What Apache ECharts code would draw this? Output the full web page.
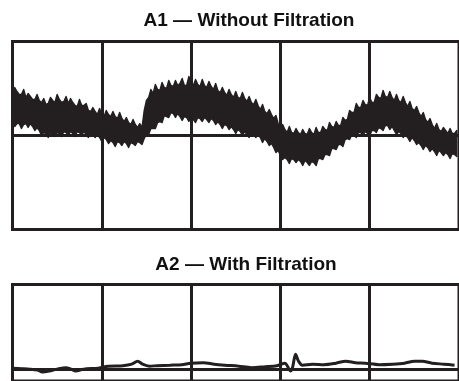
<!DOCTYPE html>
<html>
<head>
<meta charset="utf-8">
<script src="https://cdn.jsdelivr.net/npm/echarts@6/dist/echarts.min.js"></script>
<style>
html,body{margin:0;padding:0;background:#fff;}
#chart{width:459px;height:381px;}
</style>
</head>
<body>
<div id="chart"></div>
<script>
// Titles
var titleTop = "A1 \u2014 Without Filtration";
var titleBottom = "A2 \u2014 With Filtration";

// Top panel (A1): band sampled every 2.5 ms from 0 ms
var sampleStartA1 = 0, sampleStepA1 = 2.5;
var upperA1 = [43,48,44,41,41,46,38,42,39,36,36,41,35,33,37,31,32,38,35,33,
  41,36,33,34,39,32,37,33,30,29,36,30,30,32,25,24,28,24,21,27,
  21,19,25,21,19,24,19,17,23,17,14,18,13,11,16,11,8,12,8,25,
  35,38,46,42,51,46,45,53,48,47,55,50,49,55,50,52,57,50,50,59,
  54,50,56,51,49,56,50,48,54,49,46,52,45,43,48,43,40,46,41,38,
  44,38,37,43,37,34,39,33,31,36,30,26,31,24,22,26,21,17,20,12,
  8,11,6,3,9,3,2,7,3,1,6,2,1,7,3,1,8,3,3,9,
  6,5,13,9,8,14,10,10,18,15,16,25,23,23,32,28,28,35,31,30,
  38,33,33,41,38,37,45,39,38,44,38,35,41,35,33,39,33,29,34,27,
  25,29,23,19,23,16,13,17,11,7,12,6,4,8,5,2,7,2,2,5];
var lowerA1 = [13,9,12,12,7,11,12,8,12,9,5,8,5,0,3,2,-2,3,1,-1,
  3,2,-1,4,3,0,4,2,-1,4,3,0,4,1,-2,2,1,-2,1,-2,
  -6,-2,-4,-8,-5,-7,-11,-6,-7,-10,-6,-8,-12,-7,-8,-10,-6,-7,-9,-3,
  1,1,7,7,7,13,14,13,20,19,18,23,22,18,22,19,15,19,18,14,
  18,16,13,18,17,14,18,16,13,17,15,11,14,11,7,11,10,6,9,6,
  2,6,4,0,4,1,-2,2,1,-2,1,-2,-7,-3,-6,-10,-8,-12,-17,-15,
  -20,-24,-22,-24,-28,-23,-24,-27,-24,-26,-30,-25,-27,-30,-26,-27,-30,-23,-23,-24,
  -19,-19,-20,-13,-13,-14,-9,-9,-11,-4,-3,-4,1,0,-2,3,3,0,4,2,
  0,5,5,3,8,7,5,10,10,6,9,5,1,4,2,-2,1,-2,-6,-2,
  -5,-9,-7,-10,-14,-10,-12,-16,-13,-16,-20,-15,-17,-20,-17,-19,-23,-18,-19,-21];

// Bottom panel (A2): filtered signal
var timeA2 = [0.5,10.4,19.2,28,33.5,41.2,50,59.9,65.4,70.9,79.7,96.2,107.1,123.6,133.5,140.1,145.6,153.3,162.1,176.4,
  189.6,199.5,213.7,225.8,237.9,253.3,267.6,283,296.2,305,311.5,313.7,317,320.3,324.7,335.7,348.9,362.1,373.1,384.1,
  395,410.4,425.8,439,450,458.8,469.8,483,495];
var valueA2 = [1,0.5,0,-1,-3,-2,0,1.5,0,-2,0,1,3,3.5,5,8,5,3,3.5,4,
  4.5,6,6.5,5,4,3,1.5,2.5,3.5,6,-2,2,15,8,4,5,4.5,6,8,6.5,
  6,4.5,5,6,8,8,6,5,4];

// Axis ranges / ticks
var timeMin = 0, timeMax = 500, timeStep = 100;
var a1Min = -94, a1Max = 94, a1Step = 94;
var a2Min = -12, a2Max = 85.5;

var INK = '#231f20';

// one row per sample: [t, upper, lower]
var bandData = upperA1.map(function(u, i){
  return [sampleStartA1 + i * sampleStepA1, u, lowerA1[i]];
});
var a2Data = timeA2.map(function(t,i){return [t, valueA2[i]];});

// draw the whole band as one polygon (upper edge forward, lower edge back)
function renderBand(params, api) {
  if (params.dataIndex !== 0) return null;
  var pts = [];
  for (var i = 0; i < bandData.length; i++) pts.push(api.coord([bandData[i][0], bandData[i][1]]));
  for (var j = bandData.length - 1; j >= 0; j--) pts.push(api.coord([bandData[j][0], bandData[j][2]]));
  return {
    type:'polygon',
    shape:{points:pts},
    style:{fill:INK, stroke:INK, lineWidth:1.4, lineJoin:'round'}
  };
}

var chart = echarts.init(document.getElementById('chart'), null, {renderer:'canvas'});
var hidden = {show:false};
chart.setOption({
  animation:false,
  backgroundColor:'#fff',
  title:[
    {text:titleTop, left:249, top:11.5, textAlign:'center', padding:0,
     textStyle:{fontFamily:'Liberation Sans, Arial, sans-serif', fontWeight:'bold', fontSize:19, color:'#111'}},
    {text:titleBottom, left:246, top:255, textAlign:'center', padding:0,
     textStyle:{fontFamily:'Liberation Sans, Arial, sans-serif', fontWeight:'bold', fontSize:19, color:'#111'}}
  ],
  grid:[
    {left:12.5, top:41.5, width:455, height:188, show:true, borderColor:INK, borderWidth:3, backgroundColor:'transparent'},
    {left:12.5, top:284.5, width:455, height:97.5, show:true, borderColor:INK, borderWidth:3, backgroundColor:'transparent'}
  ],
  xAxis:[
    {gridIndex:0, type:'value', min:timeMin, max:timeMax, interval:timeStep,
     axisLine:hidden, axisTick:hidden, axisLabel:hidden,
     splitLine:{show:true, lineStyle:{color:INK, width:3}}},
    {gridIndex:1, type:'value', min:timeMin, max:timeMax, interval:timeStep,
     axisLine:{show:true, onZero:true, lineStyle:{color:INK, width:3}}, axisTick:hidden, axisLabel:hidden,
     splitLine:{show:true, lineStyle:{color:INK, width:3}}}
  ],
  yAxis:[
    {gridIndex:0, type:'value', min:a1Min, max:a1Max, interval:a1Step,
     axisLine:hidden, axisTick:hidden, axisLabel:hidden,
     splitLine:{show:true, lineStyle:{color:INK, width:3}}},
    {gridIndex:1, type:'value', min:a2Min, max:a2Max,
     axisLine:hidden, axisTick:hidden, axisLabel:hidden, splitLine:hidden}
  ],
  series:[
    {type:'custom', xAxisIndex:0, yAxisIndex:0, data:bandData, renderItem:renderBand,
     encode:{x:0, y:[1,2]}, clip:true, z:5},
    {type:'line', xAxisIndex:1, yAxisIndex:1, data:a2Data, symbol:'none', smooth:0.3,
     lineStyle:{color:INK, width:3}, z:5}
  ]
});
</script>
</body>
</html>
